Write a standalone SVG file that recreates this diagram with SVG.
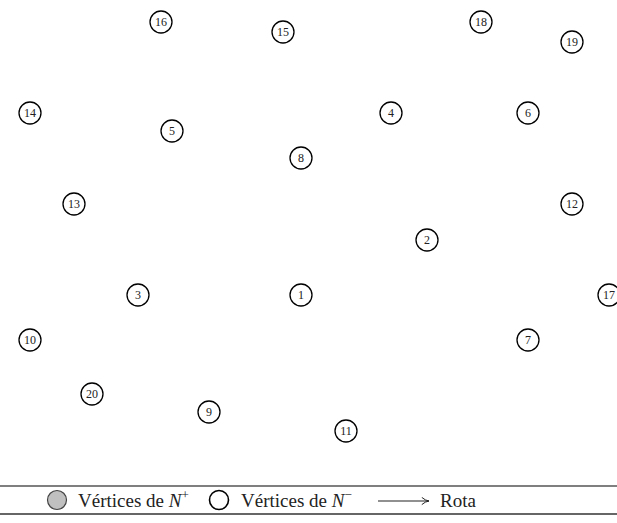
<svg xmlns="http://www.w3.org/2000/svg" width="617" height="523" viewBox="0 0 617 523">
<style>
.n circle{fill:#fff;stroke:#000;stroke-width:1.3}
.n text{font-family:"Liberation Serif","DejaVu Serif",serif;font-size:12px;text-anchor:middle;dominant-baseline:central;fill:#222}
.lg{font-family:"Liberation Serif","DejaVu Serif",serif;font-size:19px;fill:#222}
</style>
<defs>
<marker id="ah" viewBox="0 0 10 10" refX="9" refY="5" markerWidth="9" markerHeight="9" orient="auto" markerUnits="userSpaceOnUse">
<path d="M1,1 Q5,4.5 9,5 Q5,5.5 1,9" fill="none" stroke="#222" stroke-width="1.1"/>
</marker>
</defs>
<rect width="617" height="523" fill="#fff"/>
<g id="connectors"></g>
<g id="n16" class="n"><circle cx="161" cy="22" r="11"/><text x="161" y="22">16</text></g>
<g id="n15" class="n"><circle cx="283" cy="32" r="11"/><text x="283" y="32">15</text></g>
<g id="n18" class="n"><circle cx="481" cy="22" r="11"/><text x="481" y="22">18</text></g>
<g id="n19" class="n"><circle cx="572" cy="42" r="11"/><text x="572" y="42">19</text></g>
<g id="n14" class="n"><circle cx="30" cy="113" r="11"/><text x="30" y="113">14</text></g>
<g id="n5" class="n"><circle cx="172" cy="131" r="11"/><text x="172" y="131">5</text></g>
<g id="n4" class="n"><circle cx="391" cy="113" r="11"/><text x="391" y="113">4</text></g>
<g id="n6" class="n"><circle cx="528" cy="113" r="11"/><text x="528" y="113">6</text></g>
<g id="n8" class="n"><circle cx="301" cy="158" r="11"/><text x="301" y="158">8</text></g>
<g id="n13" class="n"><circle cx="74" cy="204" r="11"/><text x="74" y="204">13</text></g>
<g id="n12" class="n"><circle cx="572" cy="204" r="11"/><text x="572" y="204">12</text></g>
<g id="n2" class="n"><circle cx="427" cy="240" r="11"/><text x="427" y="240">2</text></g>
<g id="n3" class="n"><circle cx="138" cy="295" r="11"/><text x="138" y="295">3</text></g>
<g id="n1" class="n"><circle cx="301" cy="295" r="11"/><text x="301" y="295">1</text></g>
<g id="n17" class="n"><circle cx="609" cy="295" r="11"/><text x="609" y="295">17</text></g>
<g id="n10" class="n"><circle cx="30" cy="340" r="11"/><text x="30" y="340">10</text></g>
<g id="n7" class="n"><circle cx="528" cy="340" r="11"/><text x="528" y="340">7</text></g>
<g id="n20" class="n"><circle cx="92" cy="394" r="11"/><text x="92" y="394">20</text></g>
<g id="n9" class="n"><circle cx="209" cy="412" r="11"/><text x="209" y="412">9</text></g>
<g id="n11" class="n"><circle cx="346" cy="431" r="11"/><text x="346" y="431">11</text></g>
<g id="legend">
<line x1="0" y1="486" x2="617" y2="486" stroke="#555" stroke-width="1.5"/>
<line x1="0" y1="514" x2="617" y2="514" stroke="#333" stroke-width="1.5"/>
<circle cx="57" cy="500" r="9.5" fill="#c0c0c0" stroke="#444" stroke-width="1.2"/>
<text class="lg" x="78" y="507">Vértices de <tspan font-style="italic">N</tspan><tspan font-size="13" dy="-8">+</tspan></text>
<circle cx="219" cy="500" r="9.5" fill="#fff" stroke="#000" stroke-width="1.6"/>
<text class="lg" x="241" y="507">Vértices de <tspan font-style="italic">N</tspan><tspan font-size="13" dy="-8">−</tspan></text>
<line x1="378" y1="501" x2="429" y2="501" stroke="#222" stroke-width="1.1" marker-end="url(#ah)"/>
<text class="lg" x="440" y="507">Rota</text>
</g>
</svg>
